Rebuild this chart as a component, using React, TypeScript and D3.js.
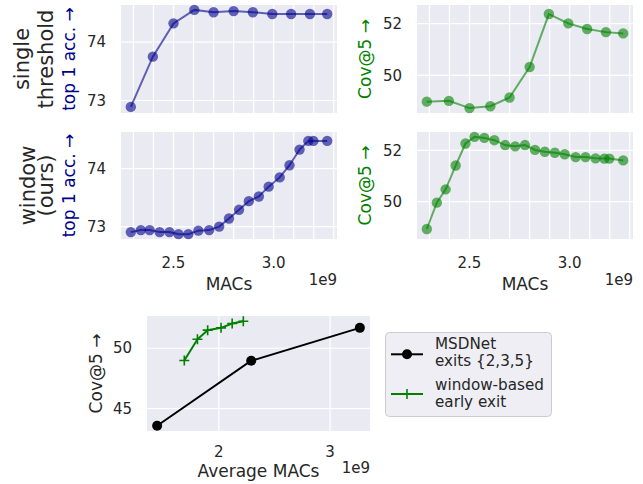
import React from "react";
import * as d3 from "d3";

// MACs in units of 1e9
const singleMacs = [2.287, 2.397, 2.5, 2.604, 2.7, 2.8, 2.896, 2.993, 3.087, 3.181, 3.267];
const singleTop1 = [72.89, 73.75, 74.32, 74.55, 74.51, 74.53, 74.51, 74.48, 74.48, 74.48, 74.48];
const singleCov5 = [48.98, 49.01, 48.73, 48.8, 49.14, 50.32, 52.37, 52.01, 51.79, 51.67, 51.62];

const windowMacs = [
  2.287, 2.337, 2.381, 2.431, 2.48, 2.525, 2.574, 2.624, 2.678, 2.728, 2.777,
  2.827, 2.876, 2.926, 2.975, 3.03, 3.079, 3.129, 3.173, 3.198, 3.267,
];
const windowTop1 = [
  72.905, 72.94, 72.94, 72.905, 72.905, 72.87, 72.87, 72.93, 72.94, 73.0, 73.14,
  73.29, 73.44, 73.52, 73.69, 73.85, 74.06, 74.33, 74.48, 74.48, 74.48,
];
const windowCov5 = [
  48.93, 49.96, 50.48, 51.41, 52.27, 52.53, 52.49, 52.4, 52.21, 52.16, 52.21,
  52.02, 51.95, 51.91, 51.85, 51.74, 51.74, 51.69, 51.68, 51.68, 51.61,
];

const msdnetMacs = [1.446, 2.291, 3.267];
const msdnetCov5 = [43.57, 48.96, 51.69];
const windowAvgMacs = [1.69, 1.808, 1.9, 2.02, 2.12, 2.22];
const windowAvgCov5 = [48.98, 50.74, 51.5, 51.69, 52.05, 52.24];

const macsTicks = [2.5, 3.0];
const macsGrid = d3.range(23, 34).map((v) => v / 10);
const top1Ticks = [73, 74];
const cov5Ticks = [50, 52];
const avgMacsTicks = [2, 3];
const avgCovTicks = [45, 50];

const rowLabels = [
  ["single", "threshold"],
  ["window", "(ours)"],
];
const legendItems = [
  ["MSDNet", "exits {2,3,5}"],
  ["window-based", "early exit"],
];

const FONT = "'DejaVu Sans', sans-serif";
const BG = "#EAEAF2";
const INK = "#262626";
const BLUE = "#00008B";
const GREEN = "#008000";

const padded = (vals: number[]) => {
  const [a, b] = d3.extent(vals) as [number, number];
  const m = (b - a) * 0.05;
  return [a - m, b + m];
};

const colRange = [
  [121, 337],
  [417, 633],
];
const rowRange = [
  [113, 5],
  [239, 132],
];

const xDomain = padded([...singleMacs, ...windowMacs]);
const top1Domain = padded([...singleTop1, ...windowTop1]);
const cov5Domain = padded([...singleCov5, ...windowCov5]);

function Panel({ col, row, xv, yv, color }) {
  const x = d3.scaleLinear().domain(xDomain).range(colRange[col]);
  const y = d3
    .scaleLinear()
    .domain(col === 0 ? top1Domain : cov5Domain)
    .range(rowRange[row]);
  const yTicks = col === 0 ? top1Ticks : cov5Ticks;
  const [l, r] = colRange[col];
  const [b, t] = rowRange[row];
  const pts = xv.map((d, i) => [x(d), y(yv[i])]);
  const line = d3.line()(pts as [number, number][]);
  return (
    <g>
      <rect x={l} y={t} width={r - l} height={b - t} fill={BG} />
      {macsGrid.map((g) => (
        <line key={g} x1={x(g)} x2={x(g)} y1={t} y2={b} stroke="#fff" strokeWidth={1.2} />
      ))}
      {yTicks.map((g) => (
        <line key={g} x1={l} x2={r} y1={y(g)} y2={y(g)} stroke="#fff" strokeWidth={1.2} />
      ))}
      <path d={line!} fill="none" stroke={color} strokeOpacity={0.6} strokeWidth={2} />
      {pts.map(([px, py], i) => (
        <circle key={i} cx={px} cy={py} r={5.2} fill={color} fillOpacity={0.6} />
      ))}
      {yTicks.map((g) => (
        <text key={g} x={l - 15} y={y(g)} dy="0.35em" textAnchor="end" fontSize={15} fill={INK}>
          {g}
        </text>
      ))}
      {row === 1 &&
        macsTicks.map((g) => (
          <text key={g} x={x(g)} y={267.5} textAnchor="middle" fontSize={15} fill={INK}>
            {d3.format(".1f")(g)}
          </text>
        ))}
      {row === 1 && (
        <>
          <text x={(l + r) / 2} y={289.5} textAnchor="middle" fontSize={17} fill={INK}>
            MACs
          </text>
          <text x={r} y={285} textAnchor="end" fontSize={15} fill={INK}>
            1e9
          </text>
        </>
      )}
      <text
        transform={`translate(${col === 0 ? 74.5 : 370.5},${(t + b) / 2}) rotate(-90)`}
        textAnchor="middle"
        fontSize={17}
        fill={col === 0 ? BLUE : GREEN}
      >
        {col === 0 ? "top 1 acc. →" : "Cov@5 →"}
      </text>
    </g>
  );
}

function Summary() {
  const l = 147, r = 370, t = 316, b = 431;
  const x = d3.scaleLinear().domain(padded([...msdnetMacs, ...windowAvgMacs])).range([l, r]);
  const y = d3.scaleLinear().domain(padded([...msdnetCov5, ...windowAvgCov5])).range([b, t]);
  const msdPts = msdnetMacs.map((d, i) => [x(d), y(msdnetCov5[i])] as [number, number]);
  const winPts = windowAvgMacs.map((d, i) => [x(d), y(windowAvgCov5[i])] as [number, number]);
  return (
    <g>
      <rect x={l} y={t} width={r - l} height={b - t} fill={BG} />
      {avgMacsTicks.map((g) => (
        <line key={g} x1={x(g)} x2={x(g)} y1={t} y2={b} stroke="#fff" strokeWidth={1.2} />
      ))}
      {avgCovTicks.map((g) => (
        <line key={g} x1={l} x2={r} y1={y(g)} y2={y(g)} stroke="#fff" strokeWidth={1.2} />
      ))}
      <path d={d3.line()(msdPts)!} fill="none" stroke="#000" strokeWidth={2} />
      {msdPts.map(([px, py], i) => (
        <circle key={i} cx={px} cy={py} r={5} fill="#000" />
      ))}
      <path d={d3.line()(winPts)!} fill="none" stroke={GREEN} strokeWidth={2} />
      {winPts.map(([px, py], i) => (
        <path key={i} d={`M${px - 5},${py}H${px + 5}M${px},${py - 5}V${py + 5}`} stroke={GREEN} strokeWidth={1.6} />
      ))}
      {avgCovTicks.map((g) => (
        <text key={g} x={l - 15} y={y(g)} dy="0.35em" textAnchor="end" fontSize={15} fill={INK}>
          {g}
        </text>
      ))}
      {avgMacsTicks.map((g) => (
        <text key={g} x={x(g)} y={457} textAnchor="middle" fontSize={15} fill={INK}>
          {g}
        </text>
      ))}
      <text x={(l + r) / 2} y={476.5} textAnchor="middle" fontSize={17} fill={INK}>
        Average MACs
      </text>
      <text x={r} y={473} textAnchor="end" fontSize={15} fill={INK}>
        1e9
      </text>
      <text transform={`translate(102,${(t + b) / 2}) rotate(-90)`} textAnchor="middle" fontSize={17} fill={INK}>
        Cov@5 →
      </text>
    </g>
  );
}

function Legend() {
  const handleY = [354.3, 394];
  const textY = [
    [349, 366],
    [390, 407],
  ];
  return (
    <g>
      <rect x={385.5} y={332.5} width={166} height={84} rx={4} fill="#EEEEF4" stroke="#CCCCCC" strokeWidth={1} />
      <line x1={391} x2={423} y1={handleY[0]} y2={handleY[0]} stroke="#000" strokeWidth={2} />
      <circle cx={407} cy={handleY[0]} r={5} fill="#000" />
      <line x1={391} x2={423} y1={handleY[1]} y2={handleY[1]} stroke={GREEN} strokeWidth={2} />
      <path d={`M402,${handleY[1]}H412M407,${handleY[1] - 5}V${handleY[1] + 5}`} stroke={GREEN} strokeWidth={1.6} />
      {legendItems.map((lines, i) =>
        lines.map((s, j) => (
          <text key={`${i}-${j}`} x={435} y={textY[i][j]} fontSize={15.2} fill={INK}>
            {s}
          </text>
        ))
      )}
    </g>
  );
}

export default function App() {
  const rowLabelX = [
    [28.5, 53],
    [34.5, 52.5],
  ];
  return (
    <div style={{ position: "absolute", left: 0, top: 0 }}>
      <svg width={643} height={484} fontFamily={FONT} style={{ display: "block", background: "#fff" }}>
        <Panel col={0} row={0} xv={singleMacs} yv={singleTop1} color={BLUE} />
        <Panel col={1} row={0} xv={singleMacs} yv={singleCov5} color={GREEN} />
        <Panel col={0} row={1} xv={windowMacs} yv={windowTop1} color={BLUE} />
        <Panel col={1} row={1} xv={windowMacs} yv={windowCov5} color={GREEN} />
        {rowLabels.map((lines, i) =>
          lines.map((s, j) => (
            <text
              key={`${i}-${j}`}
              transform={`translate(${rowLabelX[i][j]},${(rowRange[i][0] + rowRange[i][1]) / 2}) rotate(-90)`}
              textAnchor="middle"
              fontSize={21}
              fill={INK}
            >
              {s}
            </text>
          ))
        )}
        <Summary />
        <Legend />
      </svg>
    </div>
  );
}
